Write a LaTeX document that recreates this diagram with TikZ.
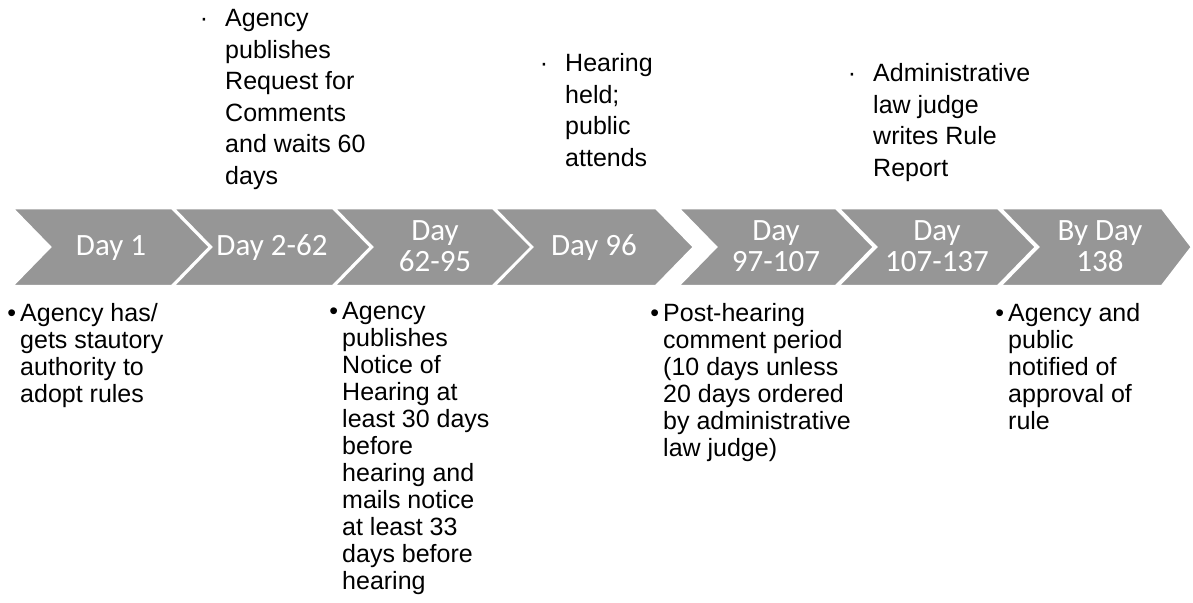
\documentclass[tikz,border=0pt]{standalone}
\usepackage{fontspec}
\setmainfont{Liberation Sans}
\newfontfamily\chevfont{Carlito}
\usepackage{tikz}
\definecolor{chevgray}{RGB}{150,150,150}
\tikzset{chev/.style = {fill=chevgray, draw=white, line width=2.5pt, line join=miter}}
\tikzset{daylbl/.style = {text=white, align=center, inner sep=0pt, font=\chevfont\fontsize{31}{31}\selectfont}}
\tikzset{below text/.style = {anchor=north west, align=left, inner sep=0pt, font=\fontsize{25}{27}\selectfont}}
\tikzset{above text/.style = {anchor=north west, align=left, inner sep=0pt, font=\fontsize{25}{31.5}\selectfont}}
\newcommand{\bigdot}{\llap{\textbullet\hspace{4pt}}}
\newcommand{\smalldot}{\llap{\textperiodcentered\hspace{17pt}}}

\begin{document}
\begin{tikzpicture}[x=1pt,y=-1pt]
                    \useasboundingbox (0,0) rectangle (1193,602);

                    \draw[chev] (12,208) -- (172,208) -- (210,247) -- (172,286) -- (12,286) -- (50,247) -- cycle;
                    \draw[chev] (173,208) -- (333,208) -- (371,247) -- (333,286) -- (173,286) -- (211,247) -- cycle;
                    \draw[chev] (334,208) -- (493,208) -- (532,247) -- (493,286) -- (334,286) -- (372,247) -- cycle;
                    \draw[chev] (494,208) -- (656,208) -- (694,247) -- (656,286) -- (494,286) -- (532,247) -- cycle;
                    \draw[chev] (678,208) -- (836,208) -- (874,247) -- (836,286) -- (678,286) -- (716,247) -- cycle;
                    \draw[chev] (838,208) -- (998,208) -- (1036,247) -- (998,286) -- (838,286) -- (876,247) -- cycle;
                    \draw[chev] (1000,208) -- (1162,208) -- (1192,247) -- (1162,286) -- (1000,286) -- (1038,247) -- cycle;

                    \node[daylbl] (D1) at (111,248) {Day 1};
                    \node[daylbl] (D2) at (272,248) {Day 2-62};
                    \node[daylbl] (D3) at (435,246) {Day\\62-95};
                    \node[daylbl] (D4) at (594,248) {Day 96};
                    \node[daylbl] (D5) at (776,246) {Day\\97-107};
                    \node[daylbl] (D6) at (937,246) {Day\\107-137};
                    \node[daylbl] (D7) at (1100,246) {By Day\\138};

                    \node[above text] (Request) at (225,9.5) {\smalldot Agency\\publishes\\Request for\\Comments\\and waits 60\\days};
                    \node[above text] (Hearing) at (565,53.5) {\smalldot Hearing\\held;\\public\\attends};
                    \node[above text] (Report) at (873,63.5) {\smalldot Administrative\\law judge\\writes Rule\\Report};

                    \node[below text] (Authority) at (20,303.5) {\bigdot Agency has/\\gets stautory\\authority to\\adopt rules};
                    \node[below text] (Notice) at (342,302.5) {\bigdot Agency\\publishes\\Notice of\\Hearing at\\least 30 days\\before\\hearing and\\mails notice\\at least 33\\days before\\hearing};
                    \node[below text] (Comment) at (663,303.5) {\bigdot Post-hearing\\comment period\\(10 days unless\\20 days ordered\\by administrative\\law judge)};
                    \node[below text] (Approval) at (1008,303.5) {\bigdot Agency and\\public\\notified of\\approval of\\rule};
                \end{tikzpicture}
\end{document}
